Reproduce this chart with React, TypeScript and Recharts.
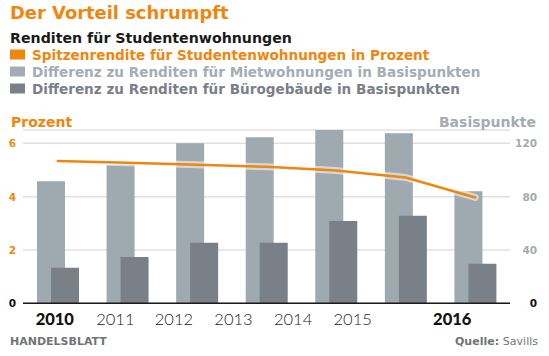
import React from "react";
import { ComposedChart, Bar, Line, XAxis, YAxis, CartesianGrid } from "recharts";

const years = ["2010", "2011", "2012", "2013", "2014", "2015", "2016"];
const spitzenrendite = [5.34, 5.27, 5.2, 5.12, 4.98, 4.72, 3.97];
const diffMiet = [91.5, 104, 120, 124.5, 130, 127.5, 84];
const diffBuero = [26.7, 34.7, 45.5, 45.5, 61.7, 65.7, 29.7];
const leftTicks = [0, 2, 4, 6];
const rightTicks = [0, 40, 80, 120];
const boldYears = ["2010", "2016"];

const data = years.map((y, i) => ({
  year: y,
  rate: spitzenrendite[i],
  miet: diffMiet[i],
  buero: diffBuero[i],
}));

const ORANGE = "#f0860c";
const LIGHT = "#9ea9b0";
const DARK = "#7a8087";
const LABEL_SHIFT = [-3, -12, -23, -33, -43, -53, -23];
const HEAD = "'DejaVu Sans', sans-serif";
const NUM = "Lato, sans-serif";

const LeftTick = (p: any) => (
  <text x={p.x} y={p.y} dy={4} textAnchor="end" fontFamily={HEAD} fontWeight={700} fontSize={10.5}
    fill={p.payload.value === 0 ? "#111" : ORANGE}>{p.payload.value}</text>
);
const RightTick = (p: any) => (
  <text x={p.x + 19} y={p.y} dy={4} textAnchor="end" fontFamily={HEAD} fontWeight={700} fontSize={10.5}
    fill={p.payload.value === 0 ? "#111" : "#a3acb2"}>{p.payload.value}</text>
);
const XTick = (p: any) => {
  const bold = boldYears.includes(p.payload.value);
  return (
    <text x={p.x + (LABEL_SHIFT[p.index] || 0)} y={p.y} dy={14} textAnchor="middle" fontFamily={NUM}
      fontWeight={bold ? 900 : 300} fontSize={16.5} fill={bold ? "#111" : "#222"}>{p.payload.value}</text>
  );
};

const legend = [
  { label: "Spitzenrendite für Studentenwohnungen in Prozent", color: ORANGE },
  { label: "Differenz zu Renditen für Mietwohnungen in Basispunkten", color: "#a4adb3" },
  { label: "Differenz zu Renditen für Bürogebäude in Basispunkten", color: DARK },
];

export default function App() {
  return (
    <div style={{ position: "absolute", left: 0, top: 0, width: 549, height: 356, background: "#fff" }}>
      <div style={{ position: "absolute", left: 0, top: 0 }}>
        <ComposedChart width={549} height={356} data={data}
          margin={{ top: 130, right: 0, left: 0, bottom: 22.7 }} barSize={28} barGap={-14}>
          <CartesianGrid yAxisId="l" vertical={false} stroke="#e0e0e0" strokeWidth={1.5} />
          <XAxis dataKey="year" height={30} tickLine={false} axisLine={{ stroke: "#1a1a1a", strokeWidth: 1.5 }}
            tick={<XTick />} interval={0} />
          <YAxis yAxisId="l" width={23} domain={[0, 6.5]} allowDataOverflow ticks={leftTicks} axisLine={false}
            tickLine={false} tickSize={6} tickMargin={1} tick={<LeftTick />} />
          <YAxis yAxisId="r" orientation="right" width={39} domain={[0, 130]} allowDataOverflow ticks={rightTicks}
            axisLine={false} tickLine={false} tick={<RightTick />} />
          <Bar yAxisId="r" dataKey="miet" fill={LIGHT} isAnimationActive={false} />
          <Bar yAxisId="r" dataKey="buero" fill={DARK} isAnimationActive={false} />
          <Line yAxisId="l" dataKey="rate" stroke="#ffffff" strokeOpacity={0.55} strokeWidth={7}
            strokeLinecap="round" dot={false} activeDot={false} isAnimationActive={false} />
          <Line yAxisId="l" dataKey="rate" stroke={ORANGE} strokeWidth={2.5}
            strokeLinecap="round" dot={false} activeDot={false} isAnimationActive={false} />
        </ComposedChart>
      </div>
      <svg width={549} height={356} style={{ position: "absolute", left: 0, top: 0, pointerEvents: "none" }}>
        <text x={10} y={18.5} fontFamily={HEAD} fontWeight={700} fontSize={17.9} fill={ORANGE}>Der Vorteil schrumpft</text>
        <text x={10} y={43.3} fontFamily={HEAD} fontWeight={700} fontSize={14.2} fill="#1a1a1a">Renditen für Studentenwohnungen</text>
        {legend.map((l, i) => (
          <g key={l.label}>
            <rect x={10} y={49.5 + i * 17} width={15} height={10} fill={l.color} />
            <text x={32} y={59.5 + i * 17} fontFamily={HEAD} fontWeight={700} fontSize={13.6} fill={l.color}>{l.label}</text>
          </g>
        ))}
        <text x={11} y={127.3} fontFamily={HEAD} fontWeight={700} fontSize={14} fill={ORANGE}>Prozent</text>
        <text x={536} y={127.3} textAnchor="end" fontFamily={HEAD} fontWeight={700} fontSize={14} fill="#a3acb2">Basispunkte</text>
        <text x={10} y={345} fontFamily={HEAD} fontWeight={700} fontSize={11} fill="#707478">HANDELSBLATT</text>
        <text x={538} y={345} textAnchor="end" fontFamily={HEAD} fontSize={11} fill="#707478">
          <tspan fontWeight={700}>Quelle: </tspan>Savills
        </text>
      </svg>
    </div>
  );
}
